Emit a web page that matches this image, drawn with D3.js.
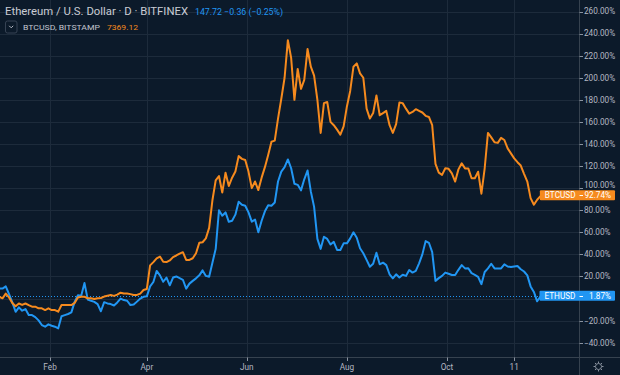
<!DOCTYPE html>
<html>
<head>
<meta charset="utf-8">
<script src="https://cdn.jsdelivr.net/npm/d3@7"></script>
<style>
  html, body { margin: 0; padding: 0; background: #0c1a2a; }
  svg { display: block; font-family: Roboto, "Noto Sans", sans-serif; }
</style>
</head>
<body>
<svg id="chart" width="620" height="375"></svg>
<script>
// one value every 2 days, starting 1 Jan 2019 (percent change vs first bar)
const startDate = new Date(Date.UTC(2019, 0, 1));
const stepDays = 2;

const ethPct = [
  9, 9, 11, 4, -3.5, -12, -8, -11, -9.5, -15,
  -15, -16.8, -19.8, -24, -25.5, -23.4, -24.6, -25.5, -27, -16,
  -15, -14, -12.5, -3, 3, 2.5, 14, -1, -2, -3,
  -5, -11.5, -3.3, -4.4, -5, -6.3, -3.5, 0, -1.4, -2,
  -5.9, -5.5, -2.8, 0, 1.6, 2, 11, 15, 25, 21,
  15.2, 19, 12, 19, 20, 18.5, 17, 9, 13.5, 16,
  18.3, 21, 25.5, 20.5, 19.7, 32.5, 45, 80, 75, 78,
  69.5, 70.5, 76, 87.7, 85, 84, 78, 69.6, 71.5, 60,
  70.5, 79, 84.5, 84, 87, 106, 115, 119, 126, 118,
  104, 103, 98, 108, 116, 97, 83, 54, 45, 56,
  54, 49, 51.4, 44, 44, 50, 50, 54.5, 60, 55,
  45.5, 41, 35, 28.8, 31.5, 41.5, 31, 32.5, 30.3, 22,
  18.3, 22, 19, 21.5, 20.5, 25.8, 23.5, 25, 31.9, 40,
  52, 50.5, 42, 16, 18.5, 20.5, 23.5, 22.5, 21.3, 21.3,
  26, 30.3, 27.3, 27.5, 23, 21.5, 19.7, 13, 24, 27.3,
  31.5, 27.3, 27.3, 27.3, 31, 29, 28.5, 29, 29.5, 26.5,
  24.5, 21, 11, 6, -2.5, 1.87
];

const btcPct = [
  1.6, 0.2, 4.5, 1, -4, -7, -4.5, -5.8, -4.5, -6,
  -7.4, -7.4, -8.9, -8.9, -10.4, -8.9, -10.4, -10.4, -11.9, -5.9,
  -5.9, -5.9, -5.9, -4, 1, 1.6, 1.6, 0.2, 0.2, -0.5,
  0.2, 0.5, 1.8, 2.6, 3.2, 2.4, 3.5, 5.3, 4.5, 4.5,
  4, 3.2, 3.3, 4.5, 7.7, 8.6, 30, 33, 36.4, 38,
  33.3, 33, 34.5, 37.5, 39, 40.7, 42, 35, 35, 36.5,
  41, 50.5, 51, 54.5, 64, 89, 107, 111, 96, 114,
  102, 109.5, 115, 129, 126.5, 125.5, 115, 100, 106, 98.3,
  109.5, 119, 130, 142, 143, 163, 181, 200, 234, 218,
  180, 208, 190, 198, 226, 210, 202, 180, 150, 177,
  178, 160, 157, 153, 148.5, 156, 174, 188, 210, 213,
  204, 200, 172, 163, 168, 184, 166, 168, 170, 157,
  150, 158, 177.5, 177, 172, 167.5, 169, 171.5, 170, 168.5,
  165.5, 164.5, 157, 122, 114, 112, 118, 117.5, 113.4, 106,
  117, 122.5, 117.9, 117.9, 109, 109, 114.9, 95, 118, 150,
  146, 141.5, 141, 145.5, 143.6, 136, 131.5, 127, 123.5, 120.5,
  113, 106, 91, 85, 89.5, 92.74
];

const pctTicks = [-40, -20, 0, 20, 40, 60, 80, 100, 120, 140, 160, 180, 200, 220, 240, 260];
const timeTicks = [
  new Date(Date.UTC(2019, 1, 1)), new Date(Date.UTC(2019, 3, 1)), new Date(Date.UTC(2019, 5, 1)),
  new Date(Date.UTC(2019, 7, 1)), new Date(Date.UTC(2019, 9, 1)), new Date(Date.UTC(2019, 10, 11))
];
const timeTickLabels = ["Feb", "Apr", "Jun", "Aug", "Oct", "11"];

const seriesNames = ["ETHUSD", "BTCUSD"];
const seriesColors = ["#2196f3", "#f68a1e"];

const dates = ethPct.map((v, i) => d3.utcDay.offset(startDate, i * stepDays));

const W = 620, H = 375;
const plotRight = 579.5, plotBottom = 357.5;

const x = d3.scaleUtc()
  .domain([startDate, new Date(Date.UTC(2019, 10, 11))])
  .range([-0.8, 514.2]);
const y = d3.scaleLinear()
  .domain([-40, 260])
  .range([342.7, 11.5]);

const svg = d3.select('#chart');
svg.append('rect').attr('width', W).attr('height', H).attr('fill', '#0c1a2a');

svg.append('defs').append('clipPath').attr('id', 'plotclip')
  .append('rect').attr('x', 0).attr('y', 0).attr('width', plotRight).attr('height', plotBottom);

// grid
const grid = svg.append('g');
grid.selectAll('.hgrid').data(pctTicks).enter().append('line')
  .attr('x1', 0).attr('x2', plotRight)
  .attr('y1', d => Math.round(y(d)) + 0.5).attr('y2', d => Math.round(y(d)) + 0.5)
  .attr('stroke', '#1d2b3b').attr('stroke-width', 1);
grid.selectAll('.vgrid').data(timeTicks).enter().append('line')
  .attr('x1', d => Math.round(x(d)) + 0.5).attr('x2', d => Math.round(x(d)) + 0.5)
  .attr('y1', 0).attr('y2', plotBottom)
  .attr('stroke', '#1d2b3b').attr('stroke-width', 1);

// dotted price line of the main series
const ethLast = ethPct[ethPct.length - 1];
const btcLast = btcPct[btcPct.length - 1];
svg.append('line')
  .attr('x1', 0).attr('x2', plotRight)
  .attr('y1', Math.round(y(ethLast)) + 0.5).attr('y2', Math.round(y(ethLast)) + 0.5)
  .attr('stroke', seriesColors[0]).attr('stroke-width', 1)
  .attr('stroke-dasharray', '1,2');

// lines
const line = d3.line()
  .x((d, i) => x(dates[i]))
  .y(d => y(d));
const plot = svg.append('g').attr('clip-path', 'url(#plotclip)');
[ethPct, btcPct].forEach((s, k) => {
  plot.append('path')
    .attr('d', line(s))
    .attr('fill', 'none')
    .attr('stroke', seriesColors[k])
    .attr('stroke-width', 2)
    .attr('stroke-linejoin', 'round');
});

// axes lines
svg.append('line').attr('x1', plotRight).attr('x2', plotRight).attr('y1', 0).attr('y2', H)
  .attr('stroke', '#36424f');
svg.append('line').attr('x1', 0).attr('x2', W).attr('y1', plotBottom).attr('y2', plotBottom)
  .attr('stroke', '#36424f');

// right axis (percent); labels next to a price label get pushed away from it
const fmt = d3.format('.2f');
const labelY = d => {
  let cy = y(d);
  [ethLast, btcLast].forEach(v => {
    const py = y(v) - 0.8;
    if (Math.abs(cy - py) < 10.5) cy = cy < py ? py - 10.5 : py + 10.5;
  });
  return cy;
};
const yTicks = svg.append('g').selectAll('g')
  .data(pctTicks.filter(d => d !== 0)).enter().append('g');
yTicks.append('line')
  .attr('x1', plotRight).attr('x2', plotRight + 3.5)
  .attr('y1', d => Math.round(y(d)) + 0.5).attr('y2', d => Math.round(y(d)) + 0.5)
  .attr('stroke', '#8a93a0');
yTicks.append('text')
  .attr('x', 584).attr('y', d => labelY(d) + 2.9)
  .attr('fill', '#b4b8c2').style('font-size', '8.2px')
  .text(d => fmt(d) + '%');

// bottom axis (time)
const xTicks = svg.append('g').selectAll('g')
  .data(timeTicks).enter().append('g');
xTicks.append('line')
  .attr('x1', d => Math.round(x(d)) + 0.5).attr('x2', d => Math.round(x(d)) + 0.5)
  .attr('y1', plotBottom).attr('y2', plotBottom + 3.5)
  .attr('stroke', '#8a93a0');
xTicks.append('text')
  .attr('x', d => x(d)).attr('y', 369.5)
  .attr('text-anchor', 'middle')
  .attr('fill', '#b4b8c2').style('font-size', '8.2px')
  .text((d, i) => timeTickLabels[i]);

// last value labels on the scale
[ethLast, btcLast].forEach((v, k) => {
  const cy = y(v) - 0.8;
  const g = svg.append('g');
  const name = g.append('text')
    .attr('y', cy + 2.9).attr('fill', '#ffffff').style('font-size', '8.2px')
    .text(seriesNames[k]);
  const tw = name.node().getComputedTextLength();
  const left = plotRight - tw - 9;
  g.insert('rect', 'text')
    .attr('x', left).attr('y', cy - 5).attr('width', 615 - left).attr('height', 10)
    .attr('rx', 1).attr('fill', seriesColors[k]);
  name.attr('x', left + 5);
  g.append('line')
    .attr('x1', plotRight).attr('x2', plotRight + 3.5)
    .attr('y1', Math.round(cy) + 0.5).attr('y2', Math.round(cy) + 0.5)
    .attr('stroke', '#ffffff');
  g.append('text')
    .attr('x', 611).attr('y', cy + 2.9).attr('text-anchor', 'end')
    .attr('fill', '#ffffff').style('font-size', '8.2px')
    .text(fmt(v) + '%');
});

// legend
svg.append('text')
  .attr('x', 5).attr('y', 15.3)
  .attr('fill', '#c9ccd4').style('font-size', '10.5px')
  .attr('textLength', 183).attr('lengthAdjust', 'spacingAndGlyphs')
  .text('Ethereum / U.S. Dollar \u00b7 D \u00b7 BITFINEX');
svg.append('text')
  .attr('x', 195).attr('y', 14.8)
  .attr('fill', seriesColors[0]).style('font-size', '8.5px')
  .attr('textLength', 88).attr('lengthAdjust', 'spacingAndGlyphs')
  .text('147.72 \u22120.36 (\u22120.25%)');

svg.append('rect')
  .attr('x', 5.5).attr('y', 21).attr('width', 11.5).attr('height', 12).attr('rx', 2)
  .attr('fill', 'none').attr('stroke', '#374354');
svg.append('path')
  .attr('d', 'M9.2,25.8 L11.2,27.8 L13.2,25.8')
  .attr('fill', 'none').attr('stroke', '#b4b8c2').attr('stroke-width', 1);
svg.append('text')
  .attr('x', 23).attr('y', 29.6)
  .attr('fill', '#c3c6cf').style('font-size', '7.6px')
  .attr('textLength', 77).attr('lengthAdjust', 'spacingAndGlyphs')
  .text('BTCUSD, BITSTAMP');
svg.append('text')
  .attr('x', 107).attr('y', 29.6)
  .attr('fill', seriesColors[1]).style('font-size', '8px')
  .attr('textLength', 31).attr('lengthAdjust', 'spacingAndGlyphs')
  .text('7369.12');

// settings gear
const gear = svg.append('g').attr('transform', 'translate(598.5,366.5)')
  .attr('stroke', '#8a93a0').attr('fill', 'none');
gear.append('circle').attr('r', 3);
d3.range(8).forEach(i => {
  const a = i * Math.PI / 4;
  gear.append('line')
    .attr('x1', Math.cos(a) * 3.5).attr('y1', Math.sin(a) * 3.5)
    .attr('x2', Math.cos(a) * 5).attr('y2', Math.sin(a) * 5);
});
</script>
</body>
</html>
